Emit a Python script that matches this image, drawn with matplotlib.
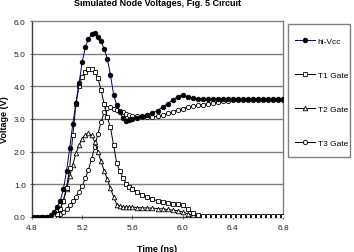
import matplotlib
matplotlib.use("Agg")
import matplotlib.pyplot as plt
from matplotlib.patches import Rectangle

plt.rcParams['font.family'] = ['Liberation Sans', 'DejaVu Sans']

time_ns = [4.80, 4.84, 4.88, 4.92, 4.95,
           4.975, 5.000, 5.025, 5.050, 5.075, 5.100, 5.125, 5.150, 5.175, 5.200,
           5.225, 5.250, 5.275, 5.300, 5.325, 5.350, 5.375, 5.400, 5.425, 5.450,
           5.475, 5.500, 5.525, 5.550, 5.575, 5.600,
           5.64, 5.68, 5.72, 5.76, 5.80, 5.84, 5.88, 5.92, 5.96, 6.00,
           6.04, 6.08, 6.12, 6.16, 6.20, 6.24, 6.28, 6.32, 6.36, 6.40,
           6.44, 6.48, 6.52, 6.56, 6.60, 6.64, 6.68, 6.72, 6.76, 6.80]

hi_vcc = [0.0, 0.0, 0.0, 0.0, 0.05,
          0.15, 0.30, 0.50, 0.85, 1.40, 2.10, 2.85, 3.50, 4.10, 4.75,
          5.20, 5.45, 5.60, 5.62, 5.50, 5.38, 5.15, 4.85, 4.35, 3.75,
          3.42, 3.20, 3.03, 2.95, 2.97, 3.00,
          3.04, 3.08, 3.13, 3.19, 3.26, 3.36, 3.47, 3.58, 3.68, 3.75,
          3.68, 3.63, 3.61, 3.60, 3.60, 3.60, 3.60, 3.60, 3.60, 3.60,
          3.60, 3.60, 3.60, 3.60, 3.60, 3.60, 3.60, 3.60, 3.60, 3.60]

t1_gate = [0.0, 0.0, 0.0, 0.0, 0.0,
           0.02, 0.08, 0.25, 0.50, 0.90, 1.50, 2.50, 3.45, 4.00, 4.30,
           4.45, 4.52, 4.54, 4.45, 4.25, 3.90, 3.45, 3.05, 2.75, 2.20,
           1.65, 1.40, 1.20, 1.02, 0.93, 0.86,
           0.77, 0.68, 0.60, 0.54, 0.50, 0.46, 0.43, 0.41, 0.39, 0.36,
           0.25, 0.12, 0.05, 0.03, 0.03, 0.03, 0.03, 0.03, 0.03, 0.03,
           0.03, 0.03, 0.03, 0.03, 0.03, 0.03, 0.03, 0.03, 0.03, 0.03]

t2_gate = [0.0, 0.0, 0.0, 0.0, 0.0,
           0.02, 0.10, 0.25, 0.50, 0.85, 1.25, 1.60, 1.95, 2.20, 2.40,
           2.52, 2.56, 2.50, 2.30, 2.00, 1.70, 1.42, 1.15, 0.88, 0.62,
           0.38, 0.33, 0.31, 0.30, 0.30, 0.30,
           0.29, 0.28, 0.28, 0.27, 0.26, 0.25, 0.23, 0.21, 0.19, 0.16,
           0.10, 0.05, 0.03, 0.03, 0.03, 0.03, 0.03, 0.03, 0.03, 0.03,
           0.03, 0.03, 0.03, 0.03, 0.03, 0.03, 0.03, 0.03, 0.03, 0.03]

t3_gate = [0.0, 0.0, 0.0, 0.0, 0.0,
           0.0, 0.03, 0.08, 0.15, 0.25, 0.36, 0.48, 0.62, 0.78, 0.95,
           1.18, 1.45, 1.78, 2.15, 2.55, 2.90, 3.20, 3.35, 3.36, 3.32,
           3.28, 3.24, 3.20, 3.16, 3.13, 3.10,
           3.08, 3.07, 3.06, 3.07, 3.08, 3.12, 3.17, 3.22, 3.27, 3.32,
           3.36, 3.39, 3.42, 3.44, 3.47, 3.50, 3.52, 3.54, 3.55, 3.57,
           3.58, 3.59, 3.59, 3.59, 3.59, 3.59, 3.59, 3.59, 3.59, 3.59]

series_labels = ["hi-Vcc", "T1 Gate", "T2 Gate", "T3 Gate"]
x_ticks = [4.8, 5.2, 5.6, 6.0, 6.4, 6.8]
y_ticks = [0.0, 1.0, 2.0, 3.0, 4.0, 5.0, 6.0]

W, H = 354, 253
fig = plt.figure(figsize=(W / 100, H / 100), dpi=100)
ax = fig.add_axes([32 / W, 1 - 218 / H, (283 - 32) / W, (218 - 22) / H])

grid_col = "#808080"
for yv in y_ticks[1:-1]:
    ax.axhline(yv, color=grid_col, lw=1.0, zorder=0)

styles = [
    dict(color="#000080", marker="o", mfc="black", mec="black", ms=3.3, zorder=6),
    dict(color="black", marker="s", mfc="white", mec="black", ms=3.1, zorder=5),
    dict(color="black", marker="^", mfc="white", mec="black", ms=3.3, zorder=4),
    dict(color="black", marker="o", mfc="white", mec="black", ms=3.1, zorder=3),
]
data = [hi_vcc, t1_gate, t2_gate, t3_gate]
handles = []
for vals, lab, st in zip(data, series_labels, styles):
    h, = ax.plot(time_ns, vals, lw=0.7, mew=0.6, label=lab, **st)
    handles.append(h)

ax.set_xlim(4.8, 6.8)
ax.set_ylim(0, 6)
ax.set_xticks(x_ticks)
ax.set_xticklabels([f"{v:.1f}" for v in x_ticks])
ax.set_yticks(y_ticks)
ax.set_yticklabels([f"{v:.1f}" for v in y_ticks])
ax.tick_params(axis="both", labelsize=6, direction="inout", length=3, width=0.6,
               color="#404040", labelcolor="#202020")
ax.tick_params(axis="x", pad=3.5)
ax.tick_params(axis="y", pad=3.0)
for s in ax.spines.values():
    s.set_color(grid_col)
    s.set_linewidth(1.0)
ax.spines["left"].set_color("#404040")
ax.spines["bottom"].set_color("#404040")

ax.set_title("Simulated Node Voltages, Fig. 5 Circuit", fontsize=6.5,
             fontweight="bold", pad=11.5)
fig.text(157.5 / W, 1 - 245 / H, "Time (ns)", fontsize=6.5, fontweight="bold",
         ha="center", va="top")
fig.text(5 / W, 1 - 120 / H, "Voltage (V)", fontsize=6.5, fontweight="bold",
         ha="center", va="center", rotation=90)

# legend frame
frame = Rectangle((288 / W, 1 - 158 / H), 62 / W, 133 / H,
                  transform=fig.transFigure, facecolor="white",
                  edgecolor=grid_col, lw=1.0, zorder=1)
fig.patches.append(frame)
leg = fig.legend(handles, series_labels, loc="upper left",
                 bbox_to_anchor=(295 / W, 1 - 38 / H),
                 bbox_transform=fig.transFigure, fontsize=6, frameon=False,
                 labelspacing=3.15, handlelength=2.4, handletextpad=0.3,
                 borderpad=0, borderaxespad=0)
leg.set_zorder(5)

fig.savefig("out.png", dpi=100)
